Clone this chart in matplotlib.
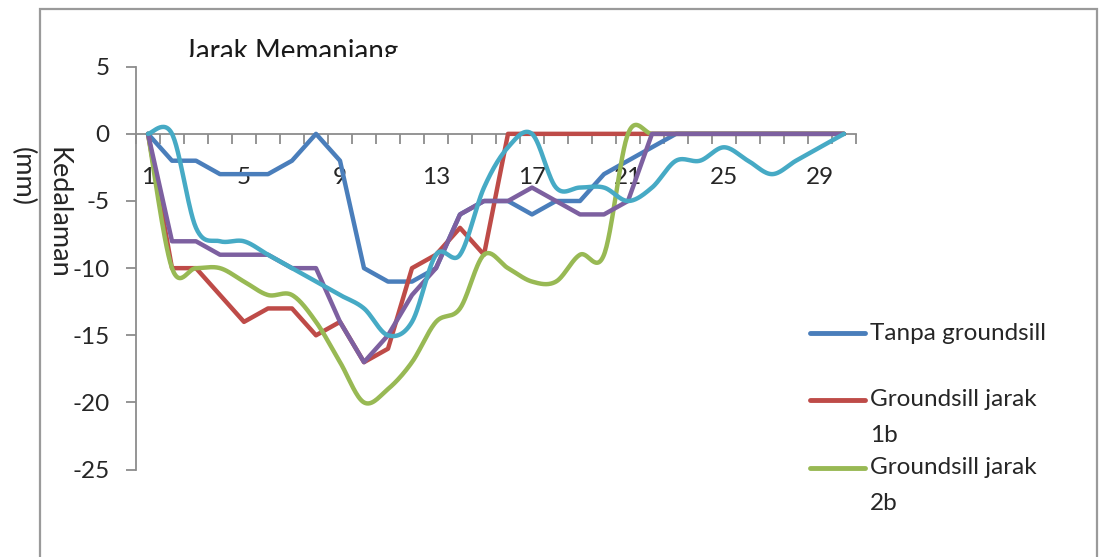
import numpy as np
import matplotlib
matplotlib.use("Agg")
import matplotlib.pyplot as plt
from matplotlib.lines import Line2D
from matplotlib.patches import Rectangle
from matplotlib.transforms import Bbox, TransformedBbox

plt.rcParams['font.family'] = ['Lato', 'DejaVu Sans']
plt.rcParams['axes.unicode_minus'] = False

# ---------------- data ----------------
categories = list(range(1, 31))
tanpa_groundsill = [0, -2, -2, -3, -3, -3, -2, 0, -2, -10, -11, -11, -10, -6, -5,
                    -5, -6, -5, -5, -3, -2, -1, 0, 0, 0, 0, 0, 0, 0, 0]
jarak_1b = [0, -10, -10, -12, -14, -13, -13, -15, -14, -17, -16, -10, -9, -7, -9,
            0, 0, 0, 0, 0, 0, 0, 0, 0, 0, 0, 0, 0, 0, 0]
jarak_2b = [0, -10, -10, -10, -11, -12, -12, -14, -17, -20, -19, -17, -14, -13, -9,
            -10, -11, -11, -9, -9, 0, 0, 0, 0, 0, 0, 0, 0, 0, 0]
jarak_3b = [0, -8, -8, -9, -9, -9, -10, -10, -14, -17, -15, -12, -10, -6, -5,
            -5, -4, -5, -6, -6, -5, 0, 0, 0, 0, 0, 0, 0, 0, 0]
jarak_4b = [0, 0, -7, -8, -8, -9, -10, -11, -12, -13, -15, -14, -9, -9, -4,
            -1, 0, -4, -4, -4, -5, -4, -2, -2, -1, -2, -3, -2, -1, 0]

series_names = ['Tanpa groundsill', 'Groundsill jarak\n1b', 'Groundsill jarak\n2b',
                'Groundsill jarak 3b', 'Groundsill jarak 4b']
series_values = [tanpa_groundsill, jarak_1b, jarak_2b, jarak_3b, jarak_4b]
series_smooth = [False, False, True, False, True]
series_colors = ['#4A7EBB', '#BE4B48', '#98B954', '#7D60A0', '#46AAC5']
legend_count = 3

x_tick_labels = [1, 5, 9, 13, 17, 21, 25, 29]
y_ticks = [5, 0, -5, -10, -15, -20, -25]
title_text = 'Jarak Memanjang'
ylabel_lines = ['Kedalaman', '(mm)']


def excel_smooth(xs, ys, n=30):
    """Excel-like smoothed line (Catmull-Rom as cubic Bezier)."""
    P = np.column_stack([xs, ys]).astype(float)
    m = len(P)
    out = []
    t = np.linspace(0, 1, n)[:, None]
    for i in range(m - 1):
        p0 = P[i]
        p3 = P[i + 1]
        pm = P[i - 1] if i > 0 else P[i]
        pp = P[i + 2] if i + 2 < m else P[i + 1]
        c1 = p0 + (p3 - pm) / 6.0
        c2 = p3 - (pp - p0) / 6.0
        seg = ((1 - t) ** 3) * p0 + 3 * ((1 - t) ** 2) * t * c1 + 3 * (1 - t) * t ** 2 * c2 + t ** 3 * p3
        if i > 0:
            seg = seg[1:]
        out.append(seg)
    out = np.vstack(out)
    return out[:, 0], out[:, 1]


W, H = 1100, 557
fig = plt.figure(figsize=(W / 100, H / 100), dpi=100)

ax_l, ax_r = 136, 856
ax_t, ax_b = 66.7, 469.6
ax = fig.add_axes([ax_l / W, 1 - ax_b / H, (ax_r - ax_l) / W, (ax_b - ax_t) / H])

for vals, smooth, col in zip(series_values, series_smooth, series_colors):
    if smooth:
        xs, ys = excel_smooth(categories, vals)
    else:
        xs, ys = categories, vals
    ax.plot(xs, ys, color=col, lw=3.2, solid_joinstyle='round', solid_capstyle='round',
            clip_on=False, zorder=3)

ax.set_xlim(0.5, 30.5)
ax.set_ylim(-25, 5)

axis_col = '#8C8C8C'
txt_col = '#262626'
fs = 17.5
for s in ['top', 'right']:
    ax.spines[s].set_visible(False)
ax.spines['bottom'].set_position(('data', 0))
ax.spines['bottom'].set_color(axis_col)
ax.spines['left'].set_color(axis_col)
ax.spines['bottom'].set_linewidth(1.3)
ax.spines['left'].set_linewidth(1.3)
ax.spines['bottom'].set_zorder(1)

ax.set_xticks(x_tick_labels)
ax.set_xticklabels([str(v) for v in x_tick_labels])
ax.set_xticks(np.arange(0.5, 31, 1), minor=True)
ax.tick_params(axis='x', which='major', length=0, pad=24, labelsize=fs, labelcolor=txt_col)
ax.tick_params(axis='x', which='minor', length=7, width=1.3, color=axis_col, direction='out')
ax.set_yticks(y_ticks)
ax.set_yticklabels([str(v) for v in y_ticks])
ax.tick_params(axis='y', which='major', length=7, width=1.3, color=axis_col, pad=12,
               labelsize=fs, labelcolor=txt_col)

# legend (manual, first line of each label aligned with the line sample)
leg_y = [333, 400, 468]
for name, col, ly in zip(series_names[:legend_count], series_colors[:legend_count], leg_y):
    fig.add_artist(Line2D([810 / W, 865 / W], [1 - ly / H, 1 - ly / H], color=col, lw=3.5,
                          solid_capstyle='round'))
    for k, line in enumerate(name.split('\n')):
        fig.text(870 / W, 1 - (ly + 35 * k) / H, line, ha='left', va='center',
                 fontsize=fs, color=txt_col)

# title, clipped at the bottom as in the reference
tt = fig.text(184 / W, 1 - 60 / H, title_text, ha='left', va='baseline', fontsize=20,
              color='#1a1a1a')
tt.set_clip_box(TransformedBbox(Bbox([[0, 1 - 57 / H], [1, 1]]), fig.transFigure))
tt.set_clip_on(True)

# y label (two lines, rotated)
fig.text(58 / W, 1 - 147 / H, ylabel_lines[0], rotation=270, ha='center', va='top',
         fontsize=19.5, color=txt_col)
fig.text(22 / W, 1 - 147 / H, ylabel_lines[1], rotation=270, ha='center', va='top',
         fontsize=19.5, color=txt_col)

# chart-area border
fig.add_artist(Rectangle((39.5 / W, -0.2), (1097 - 39.5) / W, 1.2 - 8.5 / H, fill=False,
                         edgecolor='#9A9A9A', lw=1.6, transform=fig.transFigure))

fig.savefig('out.png', dpi=100, facecolor='white')
